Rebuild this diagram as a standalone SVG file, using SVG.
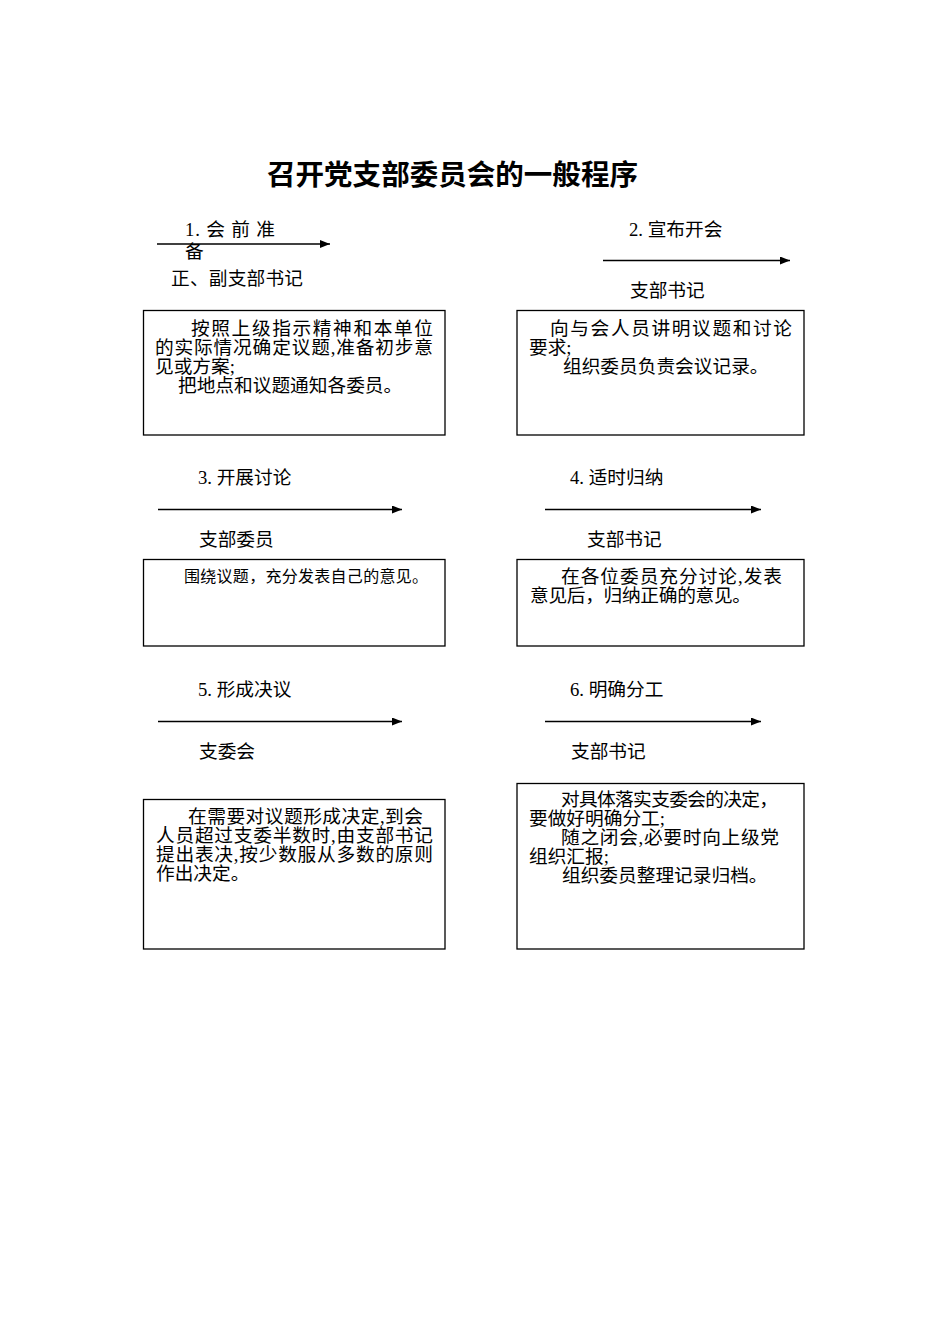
<svg xmlns="http://www.w3.org/2000/svg" width="950" height="1344" viewBox="0 0 950 1344">
<style>
.t{font-family:"Liberation Serif","Noto Sans CJK SC",serif;font-size:18.7px;fill:#000}
.s{font-family:"Liberation Serif","Noto Sans CJK SC",serif;font-size:16px;fill:#000}
.title{font-family:"Noto Sans CJK SC","Liberation Sans",sans-serif;font-size:28px;font-weight:bold;fill:#000}
.box{fill:#fff;stroke:#000;stroke-width:1.3}
.arr{stroke:#000;stroke-width:1.3;fill:none;marker-end:url(#ah)}
</style>
<defs>
<marker id="ah" viewBox="0 0 10 8" refX="10" refY="4" markerUnits="userSpaceOnUse" markerWidth="10" markerHeight="8" orient="auto">
<path d="M0,0 L10,4 L0,8 z" fill="#000"/>
</marker>
</defs>
<rect width="950" height="1344" fill="#fff"/>
<text class="title" x="267" y="185" textLength="371" lengthAdjust="spacingAndGlyphs">召开党支部委员会的一般程序</text>

<g id="connectors">
<line class="arr" x1="157" y1="244" x2="330" y2="244"/>
<line class="arr" x1="603" y1="260.5" x2="790" y2="260.5"/>
<line class="arr" x1="158" y1="509.5" x2="402" y2="509.5"/>
<line class="arr" x1="545" y1="509.5" x2="761" y2="509.5"/>
<line class="arr" x1="158" y1="721.5" x2="402" y2="721.5"/>
<line class="arr" x1="545" y1="721.5" x2="761" y2="721.5"/>
</g>

<g id="labels">
<text class="t" x="185" y="236" textLength="90" lengthAdjust="spacing">1. 会 前 准</text>
<text class="t" x="185" y="258">备</text>
<text class="t" x="171" y="285" textLength="132" lengthAdjust="spacing">正、副支部书记</text>
<text class="t" x="629" y="236">2. 宣布开会</text>
<text class="t" x="630" y="297">支部书记</text>
<text class="t" x="198" y="484">3. 开展讨论</text>
<text class="t" x="199" y="546">支部委员</text>
<text class="t" x="570" y="484">4. 适时归纳</text>
<text class="t" x="587" y="546">支部书记</text>
<text class="t" x="198" y="696">5. 形成决议</text>
<text class="t" x="199" y="758">支委会</text>
<text class="t" x="570" y="696">6. 明确分工</text>
<text class="t" x="571" y="758">支部书记</text>
</g>

<g id="node1">
<rect class="box" x="143.5" y="310.5" width="301.5" height="124.5"/>
<text class="t" x="191" y="335" textLength="242" lengthAdjust="spacing">按照上级指示精神和本单位</text>
<text class="t" x="155" y="354" textLength="278" lengthAdjust="spacing">的实际情况确定议题,准备初步意</text>
<text class="t" x="155" y="373">见或方案;</text>
<text class="t" x="178" y="392">把地点和议题通知各委员。</text>
</g>

<g id="node2">
<rect class="box" x="517" y="310.5" width="287" height="124.5"/>
<text class="t" x="550" y="335" textLength="242" lengthAdjust="spacing">向与会人员讲明议题和讨论</text>
<text class="t" x="529" y="354">要求;</text>
<text class="t" x="563" y="373">组织委员负责会议记录。</text>
</g>

<g id="node3">
<rect class="box" x="143.5" y="559.5" width="301.5" height="86.5"/>
<text class="s" x="184" y="582" textLength="244" lengthAdjust="spacing">围绕议题，充分发表自己的意见。</text>
</g>

<g id="node4">
<rect class="box" x="517" y="559.5" width="287" height="86.5"/>
<text class="t" x="561" y="583" textLength="221" lengthAdjust="spacing">在各位委员充分讨论,发表</text>
<text class="t" x="530" y="602" textLength="221" lengthAdjust="spacing">意见后，归纳正确的意见。</text>
</g>

<g id="node5">
<rect class="box" x="143.5" y="799.5" width="301.5" height="149.5"/>
<text class="t" x="188" y="823" textLength="235" lengthAdjust="spacing">在需要对议题形成决定,到会</text>
<text class="t" x="156" y="842" textLength="277" lengthAdjust="spacing">人员超过支委半数时,由支部书记</text>
<text class="t" x="156" y="861" textLength="277" lengthAdjust="spacing">提出表决,按少数服从多数的原则</text>
<text class="t" x="156" y="880">作出决定。</text>
</g>

<g id="node6">
<rect class="box" x="517" y="783.5" width="287" height="165.5"/>
<text class="t" x="561" y="806" textLength="217" lengthAdjust="spacing">对具体落实支委会的决定，</text>
<text class="t" x="529" y="825">要做好明确分工;</text>
<text class="t" x="561" y="844" textLength="218" lengthAdjust="spacing">随之闭会,必要时向上级党</text>
<text class="t" x="529" y="863">组织汇报;</text>
<text class="t" x="562" y="882">组织委员整理记录归档。</text>
</g>
</svg>
